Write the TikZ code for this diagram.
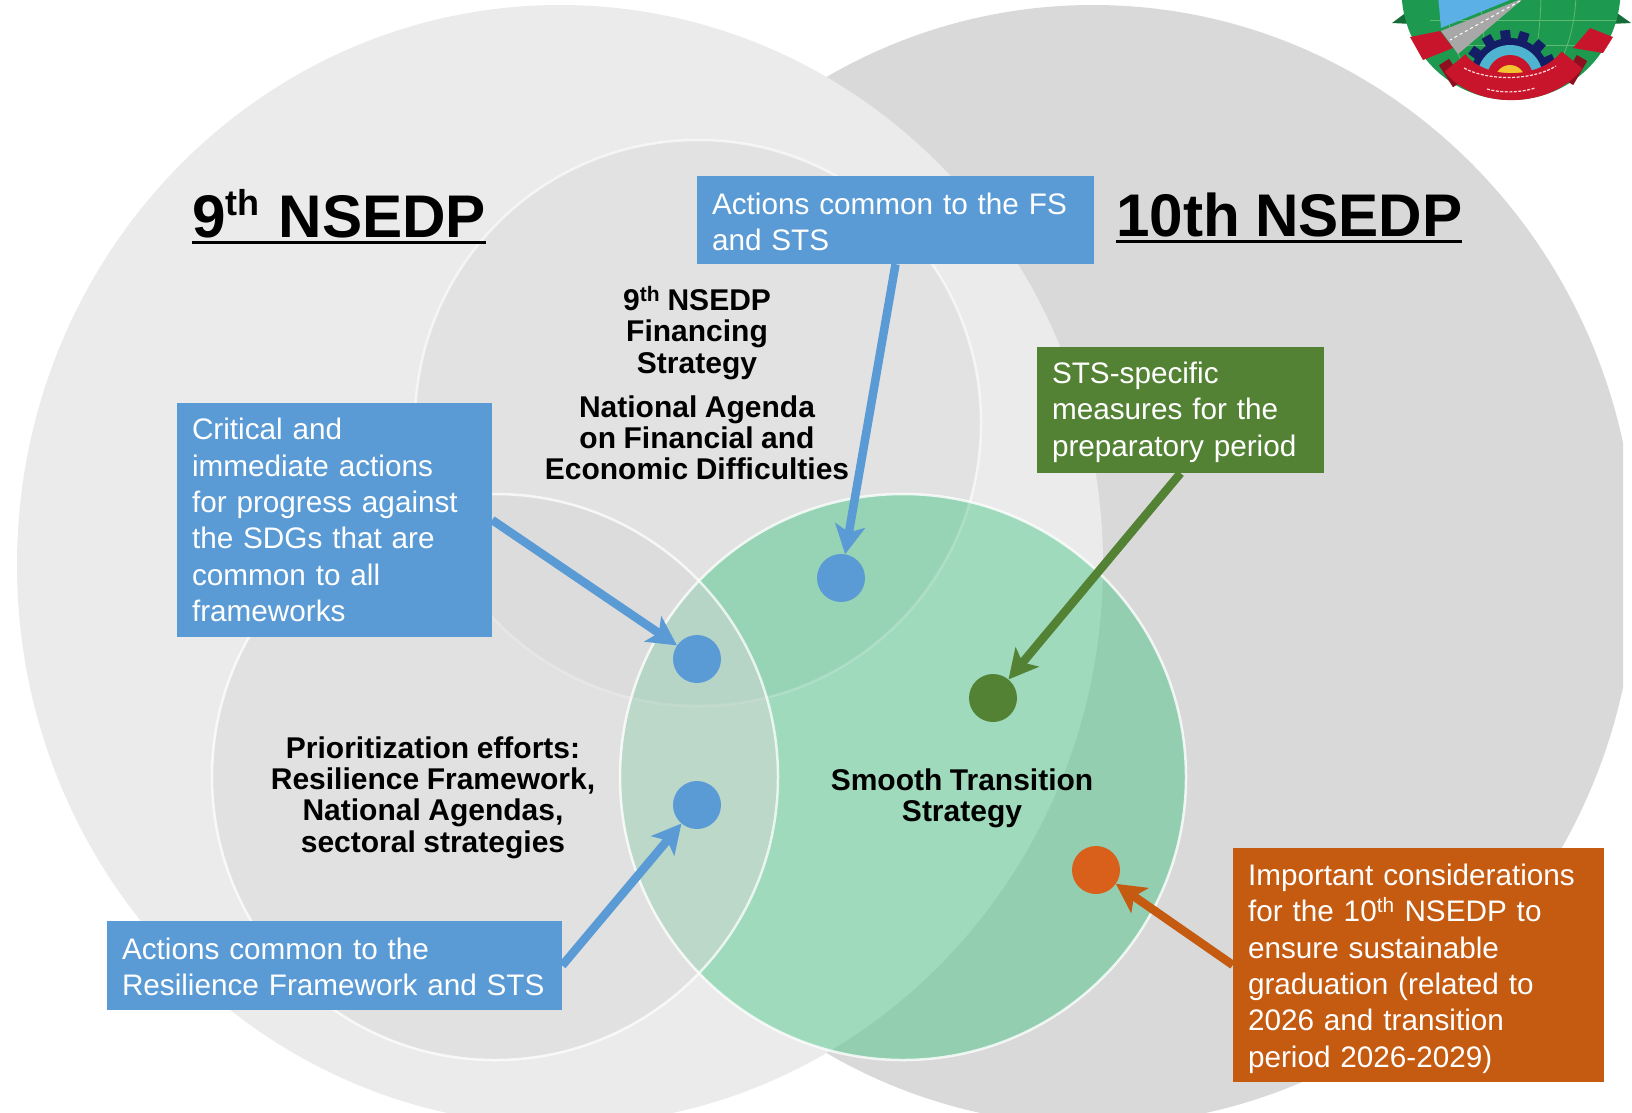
\documentclass[tikz,border=0pt]{standalone}
\usepackage{fontspec}
\setmainfont[WordSpace=0.9]{Liberation Sans}
\usetikzlibrary{arrows.meta}
\definecolor{bgB}{HTML}{D9D9D9}
\definecolor{bgA}{HTML}{EBEBEB}
\definecolor{innerC}{HTML}{E0E0E0}
\definecolor{innerE}{HTML}{D8D8D8}
\definecolor{gLight}{HTML}{9EDABB}
\definecolor{gDark}{HTML}{93CEB1}
\definecolor{gMid}{HTML}{97D3B5}
\definecolor{cBlue}{HTML}{5B9BD5}
\definecolor{cGreen}{HTML}{548235}
\definecolor{cOrange}{HTML}{C55A11}
\definecolor{dOrange}{HTML}{D9601A}
\definecolor{lgGreen}{HTML}{1E9A50}
\definecolor{lgLine}{HTML}{5CBB6E}
\definecolor{lgRed}{HTML}{C8152B}
\definecolor{lgDark}{HTML}{8E1020}
\definecolor{lgNavy}{HTML}{141E66}
\definecolor{lgSky}{HTML}{5BB0E6}
\definecolor{lgCyan}{HTML}{4FB4D0}
\definecolor{lgYellow}{HTML}{F4C430}
\definecolor{lgGray}{HTML}{A8A8A8}
\def\pathBb{(1093,565) ellipse [x radius=543,y radius=560]}
\def\pathAa{(560,565) ellipse [x radius=543,y radius=560]}
\def\pathCc{(698,423) circle [radius=283]}
\def\pathEe{(495,777) circle [radius=283]}
\def\pathGg{(903,777) circle [radius=283]}
\newcommand\thickul[1]{\setbox0\hbox{#1}\rlap{\rule[-6.5pt]{\wd0}{3pt}}\box0}
\newcommand\bigsup[1]{\raisebox{.36em}{\fontsize{36}{36}\selectfont #1}}
\tikzset{
 boxnode/.style={rectangle,inner xsep=15pt,inner ysep=0pt,text=white,align=left,font=\fontsize{29.7}{36.3}\selectfont},
 blackbold/.style={text=black,align=center,inner sep=0pt,font=\bfseries\fontsize{30}{31.2}\selectfont},
 titlenode/.style={text=black,inner sep=0pt,font=\bfseries\fontsize{60.2}{62}\selectfont},
 dotnode/.style={circle,inner sep=0pt,minimum size=48pt},
 conn/.style={line width=8.5pt,-{Stealth[length=29pt,width=30pt,inset=7pt]}},
}
\begin{document}
\begin{tikzpicture}[x=1pt,y=-1pt]
\useasboundingbox (0,0) rectangle (1632,1112);
\begin{scope}
\clip (0,0) rectangle (1632,1112);
% large circles
\begin{scope}
\clip (0,0) rectangle (1623,1112);
\fill[bgB] \pathBb;
\end{scope}
\fill[bgA] \pathAa;
\fill[innerC,opacity=.75] \pathCc;
\draw[white,opacity=.6,line width=2.5pt] \pathCc;
% green circle
\fill[gLight] \pathGg;
\begin{scope}
\clip \pathGg;
\fill[gDark,even odd rule] (0,0) rectangle (1632,1112) \pathAa;
\fill[gMid] \pathCc;
\draw[white,opacity=.2,line width=2.5pt] \pathCc;
\end{scope}
\fill[innerE,opacity=.5] \pathEe;
\draw[white,opacity=.75,line width=2.5pt] \pathEe;
\draw[white,opacity=.8,line width=2.5pt] \pathGg;
% emblem
\begin{scope}
\clip (1384,0) rectangle (1632,112);
\fill[lgGreen!70!black] (1392,23) -- (1412,8) -- (1412,24) -- cycle;
\fill[lgGreen!70!black] (1631,23) -- (1610,8) -- (1610,24) -- cycle;
\begin{scope}
\clip (1511,-9.5) circle [radius=109.5];
\fill[lgGreen] (1380,-20) rectangle (1640,110);
\draw[lgLine,line width=.8pt] (1511,-9.5) ellipse [x radius=30,y radius=109];
\draw[lgLine,line width=.8pt] (1511,-9.5) ellipse [x radius=65,y radius=109];
\draw[lgLine,line width=.8pt] (1430,20) -- (1620,20) (1440,45) -- (1600,45) (1470,65) -- (1560,65);
\fill[lgSky] (1438,-5) -- (1522,-5) -- (1441,28) -- cycle;
\fill[lgGray] (1524,-2) -- (1441,31) -- (1458,54) -- cycle;
\draw[white,dashed,line width=1pt] (1520,1) -- (1450,40);
\end{scope}
\fill[lgRed] (1410,37) -- (1440,31) -- (1453,48) -- (1423,60) -- cycle;
\fill[lgRed] (1590,28) -- (1613,37) -- (1603,53) -- (1573,48) -- cycle;
% gear
\begin{scope}
\clip (1450,20) rectangle (1570,82);
\foreach \a in {24,48,72,96,120,144,168}{
  \fill[lgNavy,rotate around={\a:(1510,78)}] (1546,73) rectangle (1558,83);
}
\fill[lgNavy] (1510,78) circle [radius=40];
\fill[lgCyan] (1510,78) circle [radius=33];
\fill[lgRed] (1510,78) circle [radius=23];
\fill[lgYellow] (1510,80) circle [radius=15];
\end{scope}
% ribbon
\draw[lgDark,line width=12pt] (1444,62) -- (1458,84);
\draw[lgDark,line width=12pt] (1582,58) -- (1568,82);
\draw[lgRed,line width=27pt] (1455,63) .. controls (1480,95) and (1545,95) .. (1572,60);
\draw[white!85!red,line width=1.2pt,dash pattern=on 3pt off 1.5pt] (1464,68) .. controls (1485,80) and (1530,82) .. (1556,66);
\draw[white!85!red,line width=1.2pt,dash pattern=on 3pt off 1.5pt] (1487,89) .. controls (1500,93) and (1520,93) .. (1535,88);
\end{scope}
\end{scope}
% titles
\node[titlenode,anchor=west] (t9) at (192,217) {\thickul{9\bigsup{th}\hspace{4pt} NSEDP}};
\node[titlenode,anchor=west] (t10) at (1116,218) {\thickul{10th NSEDP}};
% bold labels
\node[blackbold] (lfin) at (697,333) {9\textsuperscript{th} NSEDP\\Financing\\Strategy};
\node[blackbold] (lagenda) at (697,438) {National Agenda\\on Financial and\\Economic Difficulties};
\node[blackbold] (lprio) at (433,797.5) {Prioritization efforts:\\Resilience Framework,\\National Agendas,\\sectoral strategies};
\node[blackbold] (lsts) at (962,798) {Smooth Transition\\Strategy};
% boxes
\node[boxnode,fill=cBlue,minimum width=397pt,minimum height=88pt,text width=367pt] (bfs) at (895.5,220) {\rule{0pt}{25pt}Actions common to the FS\\and STS};
\node[boxnode,fill=cGreen,minimum width=287pt,minimum height=126pt,text width=257pt] (bsts) at (1180.5,410) {\rule{0pt}{26pt}STS-specific\\measures for the\\preparatory period};
\node[boxnode,fill=cBlue,minimum width=315pt,minimum height=234pt,text width=285pt] (bcrit) at (334.5,520) {Critical and\\immediate actions\\for progress against\\the SDGs that are\\common to all\\frameworks};
\node[boxnode,fill=cBlue,minimum width=455pt,minimum height=89pt,text width=425pt] (brf) at (334.5,965.5) {\rule{0pt}{24pt}Actions common to the\\\mbox{Resilience Framework and STS}};
\node[boxnode,fill=cOrange,minimum width=371pt,minimum height=234pt,text width=341pt] (bimp) at (1418.5,965) {\rule{0pt}{29pt}Important considerations\\for the 10\textsuperscript{th} NSEDP to\\ensure sustainable\\graduation (related to\\2026 and transition\\period 2026-2029)};
% dots
\node[dotnode,fill=cBlue] (d1) at (841,578) {};
\node[dotnode,fill=cBlue] (d2) at (697,659) {};
\node[dotnode,fill=cBlue] (d3) at (697,805) {};
\node[dotnode,fill=cGreen] (d4) at (993,698) {};
\node[dotnode,fill=dOrange] (d5) at (1096,870) {};
% connectors
\draw[conn,cBlue] (bfs.south) -- (d1);
\draw[conn,cBlue] (bcrit.east) -- (d2);
\draw[conn,cBlue] (brf.east) -- (d3);
\draw[conn,cGreen] (bsts.south) -- (d4);
\draw[conn,cOrange] (bimp.west) -- (d5);
\end{tikzpicture}
\end{document}
